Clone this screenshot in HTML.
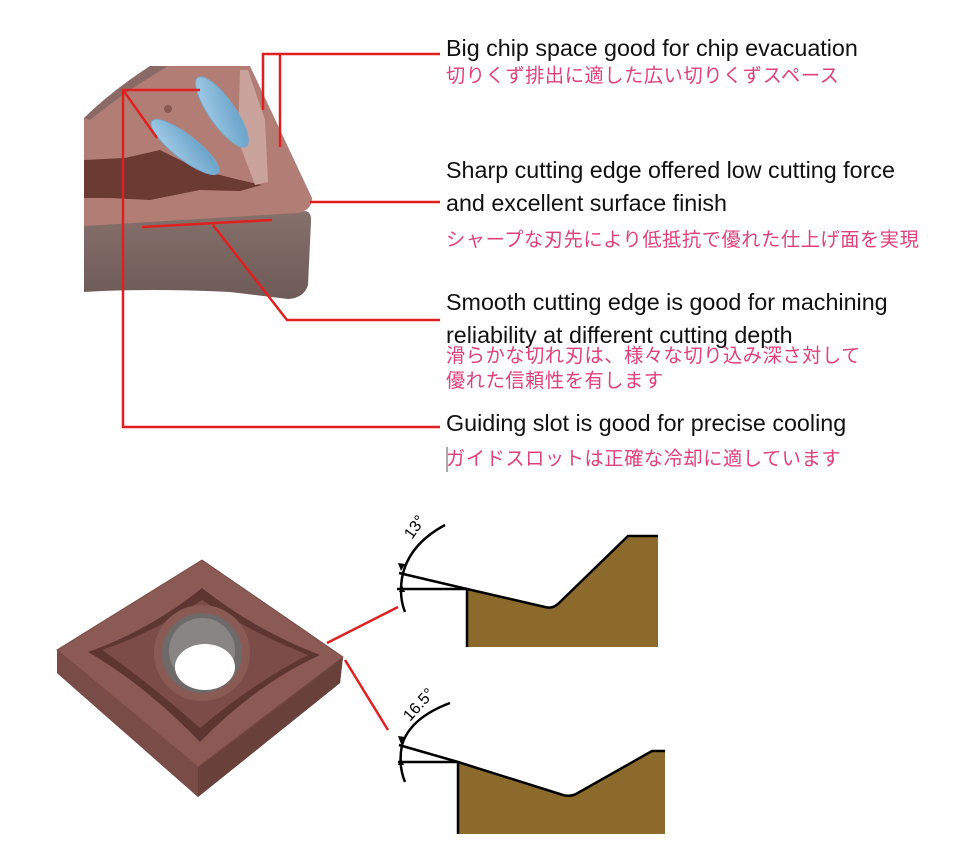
<!DOCTYPE html>
<html><head><meta charset="utf-8"><style>
body{margin:0;background:#fff;width:966px;height:857px;overflow:hidden;position:relative;font-family:"Liberation Sans","Noto Sans CJK JP",sans-serif}
.t{position:absolute;left:446px;font-size:23.3px;color:#111;white-space:nowrap;line-height:1}
.j{position:absolute;left:446px;font-size:19.2px;color:#e0407a;white-space:nowrap;line-height:1;letter-spacing:0.6px}
svg{position:absolute;left:0;top:0}
</style></head><body>
<svg width="966" height="857" viewBox="0 0 966 857">
<defs>
<linearGradient id="side" x1="0" y1="0" x2="0" y2="1"><stop offset="0" stop-color="#86706c"/><stop offset="1" stop-color="#6e5a57"/></linearGradient>
<linearGradient id="bl" x1="0" y1="0" x2="1" y2="1"><stop offset="0" stop-color="#a8d0ea"/><stop offset="1" stop-color="#5f9bc4"/></linearGradient>
</defs>
<path d="M84,222 L300,212 Q312,208 311,222 L308,285 Q304,298 288,299 L230,292 Q150,288 84,292 Z" fill="url(#side)"/>
<path d="M84,118 Q110,95 150,66 L250,66 L312,198 Q312,210 298,213 L84,226 Z" fill="#b27d74"/>
<path d="M84,118 Q110,92 150,66 L168,66 Q120,95 90,120 Z" fill="#8a6a66"/>
<path d="M84,160 L125,158 L160,150 L200,170 L240,180 L262,185 L240,191 L200,190 L150,200 L110,198 L84,198 Z" fill="#6b3a33"/>
<path d="M240,70 L248,70 L265,120 L268,182 L255,185 L238,140 Z" fill="#c9a39c"/>
<ellipse cx="222" cy="112" rx="13" ry="42" transform="rotate(-35 222 112)" fill="url(#bl)" stroke="#7aa8c8"/>
<ellipse cx="185" cy="147" rx="12" ry="42" transform="rotate(-52 185 147)" fill="url(#bl)" stroke="#7aa8c8"/>
<circle cx="168" cy="109" r="4" fill="#8a5a52"/>
<g stroke="#e02020" stroke-width="2.5" fill="none">
<polyline points="263,110 263,54 440,54"/>
<line x1="280" y1="54" x2="280" y2="147"/>
<line x1="310" y1="202" x2="440" y2="202"/>
<line x1="142" y1="227" x2="272" y2="220"/>
<polyline points="213,225 287,320 440,320"/>
<polyline points="200,90 123,90 123,427 440,427"/>
<line x1="123" y1="90" x2="157" y2="138"/>
</g>
<path d="M57,650 L202,560 L343,657 L340,683 L198,797 L57,673 Z" fill="#6e4440"/>
<path d="M57,650 L198,767 L198,797 L57,673 Z" fill="#7a4c47"/>
<path d="M198,767 L343,657 L340,683 L198,797 Z" fill="#6a403b"/>
<path d="M57,650 L202,560 L343,657 L198,767 Z" fill="#8c5a54" stroke="#7a4a45" stroke-linejoin="round"/>
<path d="M88,652 Q150,630 202,588 Q255,630 320,655 Q255,685 200,742 Q145,685 88,652 Z" fill="#5e3530"/>
<path d="M102,650 Q155,632 202,600 Q250,632 308,655 Q255,682 200,728 Q148,682 102,650 Z" fill="#7c4d48"/>
<circle cx="202" cy="653" r="48" fill="#8a5a54"/>
<circle cx="202" cy="653" r="40" fill="#6f6a6a"/>
<circle cx="202" cy="651" r="33" fill="#8a8585"/>
<ellipse cx="205" cy="667" rx="30" ry="23" fill="#fff"/>
<g stroke="#e02020" stroke-width="2.5" fill="none">
<line x1="327" y1="643" x2="398" y2="607"/>
<line x1="345" y1="660" x2="388" y2="730"/>
</g>
<path d="M467,589 L545,607 Q552,609 558,604 L628,536 L658,536 L658,647 L467,647 Z" fill="#8b6a2c"/>
<g stroke="#000" stroke-width="2.5" fill="none">
<polyline points="467,647 467,589 545,607"/>
<path d="M545,607 Q552,609 558,604 L628,536 L658,536"/>
<line x1="397" y1="589" x2="467" y2="589"/>
<line x1="399" y1="573" x2="467" y2="589"/>
<path d="M445,525 Q408,545 402,578 Q399,597 405,612"/>
</g>
<path d="M401,571 l-3,-8 l7,1 z" fill="#000"/>
<path d="M402,585 l-3,7 l6,0 z" fill="#000"/>
<text x="0" y="0" transform="translate(412,540) rotate(-55)" font-size="16" font-family="Liberation Sans,sans-serif">13°</text>
<path d="M458,762 L563,795 Q570,797 576,794 L652,751 L665,751 L665,834 L458,834 Z" fill="#8b6a2c"/>
<g stroke="#000" stroke-width="2.5" fill="none">
<polyline points="458,834 458,762 563,795"/>
<path d="M563,795 Q570,797 576,794 L652,751 L665,751"/>
<line x1="398" y1="762" x2="458" y2="762"/>
<line x1="399" y1="745" x2="458" y2="762"/>
<path d="M450,703 Q410,718 402,745 Q398,765 405,782"/>
</g>
<path d="M401,744 l-3,-8 l7,1 z" fill="#000"/>
<path d="M401,758 l-3,7 l6,0 z" fill="#000"/>
<text x="0" y="0" transform="translate(410,722) rotate(-48)" font-size="16" font-family="Liberation Sans,sans-serif">16.5°</text>
<line x1="447" y1="447" x2="447" y2="472" stroke="#555" stroke-width="1"/>
</svg>
<div class="t" style="top:37px">Big chip space good for chip evacuation</div>
<div class="j" style="top:67px">切りくず排出に適した広い切りくずスペース</div>
<div class="t" style="top:159px">Sharp cutting edge offered low cutting force</div>
<div class="t" style="top:192px">and excellent surface finish</div>
<div class="j" style="top:231px">シャープな刃先により低抵抗で優れた仕上げ面を実現</div>
<div class="t" style="top:291px">Smooth cutting edge is good for machining</div>
<div class="t" style="top:324px">reliability at different cutting depth</div>
<div class="j" style="top:347px">滑らかな切れ刃は、様々な切り込み深さ対して</div>
<div class="j" style="top:372px">優れた信頼性を有します</div>
<div class="t" style="top:412px">Guiding slot is good for precise cooling</div>
<div class="j" style="top:450px">ガイドスロットは正確な冷却に適しています</div>
</body></html>
